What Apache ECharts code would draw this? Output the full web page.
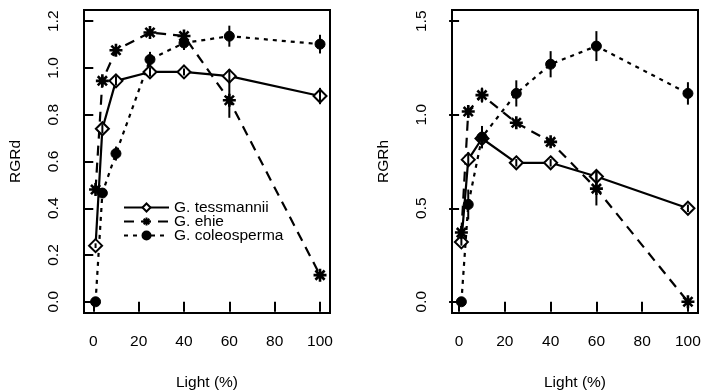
<!DOCTYPE html>
<html>
<head>
<meta charset="utf-8">
<script src="https://cdn.jsdelivr.net/npm/echarts@6/dist/echarts.min.js"></script>
<style>html,body{margin:0;padding:0;background:#fff}#c{width:701px;height:391px}</style>
</head>
<body>
<div id="c"></div>
<script>
const lightLevels = [1, 4, 10, 25, 40, 60, 100];
const xTicks = [0, 20, 40, 60, 80, 100];
const yTicksD = [0, 0.2, 0.4, 0.6, 0.8, 1.0, 1.2];
const yTicksH = [0, 0.5, 1.0, 1.5];
const speciesNames = ['G. tessmannii', 'G. ehie', 'G. coleosperma'];

// RGRd (left panel)
const rgrdTess = [0.24, 0.74, 0.945, 0.983, 0.983, 0.965, 0.88];
const rgrdEhie = [0.48, 0.945, 1.076, 1.152, 1.137, 0.862, 0.114];
const rgrdColeo = [0.0, 0.465, 0.634, 1.036, 1.107, 1.136, 1.102];
const rgrdTessErr = [0.01, 0.02, 0.02, 0.02, 0.015, 0.03, 0.035];
const rgrdEhieErr = [0.02, 0.02, 0.02, 0.02, 0.02, 0.075, 0.02];
const rgrdColeoErr = [0.01, 0.02, 0.03, 0.033, 0.03, 0.045, 0.04];

// RGRh (right panel)
const rgrhTess = [0.32, 0.76, 0.873, 0.743, 0.743, 0.67, 0.5];
const rgrhEhie = [0.37, 1.017, 1.105, 0.957, 0.855, 0.605, 0.0];
const rgrhColeo = [0.0, 0.52, 0.88, 1.114, 1.27, 1.367, 1.114];
const rgrhTessErr = [0.02, 0.04, 0.05, 0.02, 0.02, 0.03, 0.02];
const rgrhEhieErr = [0.02, 0.03, 0.04, 0.02, 0.02, 0.09, 0.02];
const rgrhColeoErr = [0.01, 0.08, 0.06, 0.07, 0.07, 0.08, 0.06];

const FONT = "'Liberation Sans', Arial, sans-serif";
const asterisk = 'path://M0,-10L0,10M-10,0L10,0M-7.07,-7.07L7.07,7.07M-7.07,7.07L7.07,-7.07';

const styles = [
  {symbol: 'diamond', size: 13, fill: '#fff', dash: 'solid', bw: 2},
  {symbol: asterisk, size: 13, fill: '#000', dash: [10, 7], bw: 2.6},
  {symbol: 'circle', size: 10, fill: '#000', dash: [4, 5], bw: 1}
];

function lineSeries(k, gi, ys) {
  const s = styles[k];
  return {
    name: speciesNames[k], type: 'line', xAxisIndex: gi, yAxisIndex: gi,
    data: lightLevels.map((x, i) => [x, ys[i]]),
    symbol: s.symbol, symbolSize: s.size, showSymbol: true,
    lineStyle: {color: '#000', width: 2.2, type: s.dash},
    itemStyle: {color: s.fill, borderColor: '#000', borderWidth: s.bw},
    z: 3, silent: true
  };
}
function errSeries(gi, ys, es) {
  return {
    type: 'custom', xAxisIndex: gi, yAxisIndex: gi,
    data: lightLevels.map((x, i) => [x, ys[i], es[i]]),
    encode: {x: 0, y: 1},
    renderItem: function (params, api) {
      const x = api.value(0), y = api.value(1), e = api.value(2);
      const p1 = api.coord([x, y - e]), p2 = api.coord([x, y + e]);
      return {type: 'line', shape: {x1: p1[0], y1: p1[1], x2: p2[0], y2: p2[1]},
              style: {stroke: '#000', lineWidth: 2}};
    },
    z: 5, silent: true
  };
}

function xAxis(gi, min) {
  return {
    type: 'value', gridIndex: gi, min: min, max: 104.4,
    name: 'Light (%)', nameLocation: 'middle', nameGap: 62,
    nameTextStyle: {fontFamily: FONT, fontSize: 15.5, color: '#000'},
    axisLine: {show: false},
    axisTick: {show: true, length: 10, lineStyle: {color: '#000', width: 2}, customValues: xTicks},
    axisLabel: {fontFamily: FONT, fontSize: 15.5, color: '#000', margin: 21, customValues: xTicks,
                formatter: v => String(v)},
    splitLine: {show: false}
  };
}
function yAxis(gi, min, max, ticks, name) {
  return {
    type: 'value', gridIndex: gi, min: min, max: max,
    name: name, nameLocation: 'middle', nameGap: 60, nameRotate: 90,
    nameTextStyle: {fontFamily: FONT, fontSize: 15.5, color: '#000'},
    axisLine: {show: false},
    axisTick: {show: true, length: 10, lineStyle: {color: '#000', width: 2}, customValues: ticks},
    axisLabel: {fontFamily: FONT, fontSize: 15.5, color: '#000', margin: 22, rotate: 90,
                customValues: ticks, formatter: v => v.toFixed(1)},
    splitLine: {show: false}
  };
}

const chart = echarts.init(document.getElementById('c'), null, {renderer: 'canvas'});
chart.setOption({
  animation: false,
  backgroundColor: '#fff',
  grid: [
    {left: 84, top: 10, width: 246, height: 303, show: true, borderColor: '#000', borderWidth: 2,
     backgroundColor: 'transparent', outerBoundsMode: 'none', containLabel: false},
    {left: 452, top: 10, width: 246, height: 303, show: true, borderColor: '#000', borderWidth: 2,
     backgroundColor: 'transparent', outerBoundsMode: 'none', containLabel: false}
  ],
  xAxis: [xAxis(0, -4.1), xAxis(1, -3.1)],
  yAxis: [yAxis(0, -0.048, 1.248, yTicksD, 'RGRd'), yAxis(1, -0.06, 1.56, yTicksH, 'RGRh')],
  legend: {
    data: speciesNames, orient: 'vertical', left: 123, top: 199.5, padding: 0,
    itemWidth: 45, itemHeight: 10, itemGap: -2,
    textStyle: {fontFamily: FONT, fontSize: 15.5, color: '#000', lineHeight: 14},
    selectedMode: false
  },
  series: [
    lineSeries(0, 0, rgrdTess), lineSeries(1, 0, rgrdEhie), lineSeries(2, 0, rgrdColeo),
    errSeries(0, rgrdTess, rgrdTessErr), errSeries(0, rgrdEhie, rgrdEhieErr), errSeries(0, rgrdColeo, rgrdColeoErr),
    lineSeries(0, 1, rgrhTess), lineSeries(1, 1, rgrhEhie), lineSeries(2, 1, rgrhColeo),
    errSeries(1, rgrhTess, rgrhTessErr), errSeries(1, rgrhEhie, rgrhEhieErr), errSeries(1, rgrhColeo, rgrhColeoErr)
  ]
});
</script>
</body>
</html>
